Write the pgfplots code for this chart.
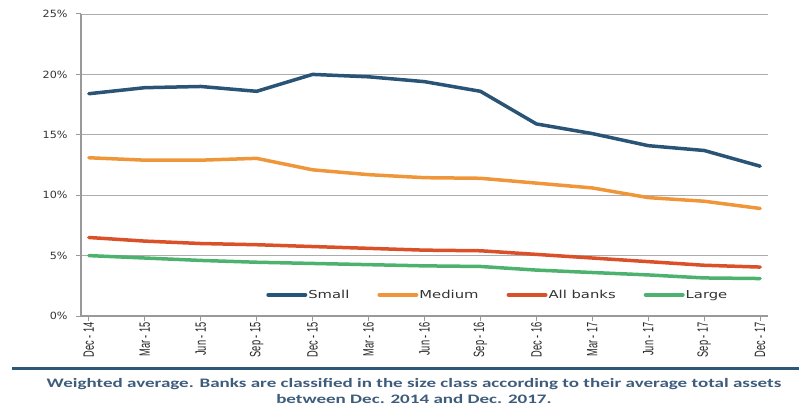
\documentclass[border=0pt]{standalone}
\usepackage{pgfplots}
\usepackage{pgfplotstable}
\pgfplotsset{compat=1.18}
\usepackage{fontspec}
\setmainfont{DejaVu Sans}
\newfontfamily\tickfont{DejaVu Sans}[FakeStretch=1.12]
\newfontfamily\legfont{DejaVu Sans}[FakeStretch=1.35]
\newfontfamily\xfont{Liberation Sans}[FakeStretch=0.62]
\newfontfamily\notefont{Carlito}[FakeStretch=1.47]
\definecolor{csmall}{RGB}{42,84,118}
\definecolor{cmedium}{RGB}{240,150,58}
\definecolor{call}{RGB}{218,80,40}
\definecolor{clarge}{RGB}{77,178,110}
\definecolor{cnote}{RGB}{62,92,124}
\definecolor{crule}{RGB}{46,88,119}
\pgfplotstableread{
x small medium all large
0 18.4 13.1 6.5 5.0
1 18.9 12.9 6.2 4.8
2 19.0 12.9 6.0 4.6
3 18.6 13.05 5.9 4.45
4 20.0 12.1 5.75 4.35
5 19.8 11.7 5.6 4.25
6 19.4 11.45 5.45 4.15
7 18.6 11.4 5.4 4.1
8 15.9 11.0 5.1 3.8
9 15.1 10.6 4.8 3.6
10 14.1 9.8 4.5 3.4
11 13.7 9.5 4.2 3.15
12 12.4 8.9 4.05 3.1
}\data
\begin{document}
\begin{tikzpicture}
\useasboundingbox (0bp,0bp) rectangle (799bp,408bp);
\begin{axis}[
  at={(81bp,92bp)}, anchor=south west, scale only axis,
  width=687bp, height=302bp,
  xmin=-0.14, xmax=12.14, ymin=0, ymax=25,
  axis x line*=bottom, axis y line*=left,
  axis line style={-, color=gray!80, line width=2bp},
  xtick={0,...,12},
  xticklabels={Dec - 14, Mar - 15, Jun - 15, Sep - 15, Dec - 15, Mar - 16, Jun - 16, Sep - 16, Dec - 16, Mar - 17, Jun - 17, Sep - 17, Dec - 17},
  x tick label style={rotate=90, anchor=east, font=\xfont\fontsize{15}{16}\selectfont, text=black!85, inner sep=1bp},
  ytick={0,5,10,15,20,25},
  yticklabel={\pgfmathprintnumber{\tick}\%},
  y tick label style={font=\tickfont\fontsize{10}{12}\selectfont, text=black!80, xshift=-5bp},
  /pgf/number format/assume math mode=true,
  tick align=outside, major tick length=5bp,
  tick style={color=gray!80, line width=1bp},
  ymajorgrids, grid style={color=gray!65, line width=0.9bp},
  legend columns=4,
  legend style={at={(0.606,0.07)}, anchor=center, draw=none, fill=none,
    font=\legfont\fontsize{11}{13}\selectfont, text=black!80,
    nodes={inner sep=1bp},
    /tikz/every even column/.style={column sep=27bp}},
  legend image code/.code={\draw[#1, line width=4bp] (0bp,0bp) -- (37bp,0bp);},
  every axis plot/.append style={line width=3.5bp, line join=round, line cap=round},
]
\addplot[csmall] table[x=x,y=small]{\data};
\addlegendentry{Small}
\addplot[cmedium] table[x=x,y=medium]{\data};
\addlegendentry{Medium}
\addplot[call] table[x=x,y=all]{\data};
\addlegendentry{All banks}
\addplot[clarge] table[x=x,y=large]{\data};
\addlegendentry{Large}
\end{axis}
\draw[line width=3bp, crule] (12bp,39bp) -- (799bp,39bp);
\node[align=center, text=cnote, font=\notefont\bfseries\fontsize{13}{16}\selectfont] at (414bp,17bp)
  {Weighted average. Banks are classified in the size class according to their average total assets\\between Dec. 2014 and Dec. 2017.};
\end{tikzpicture}
\end{document}
